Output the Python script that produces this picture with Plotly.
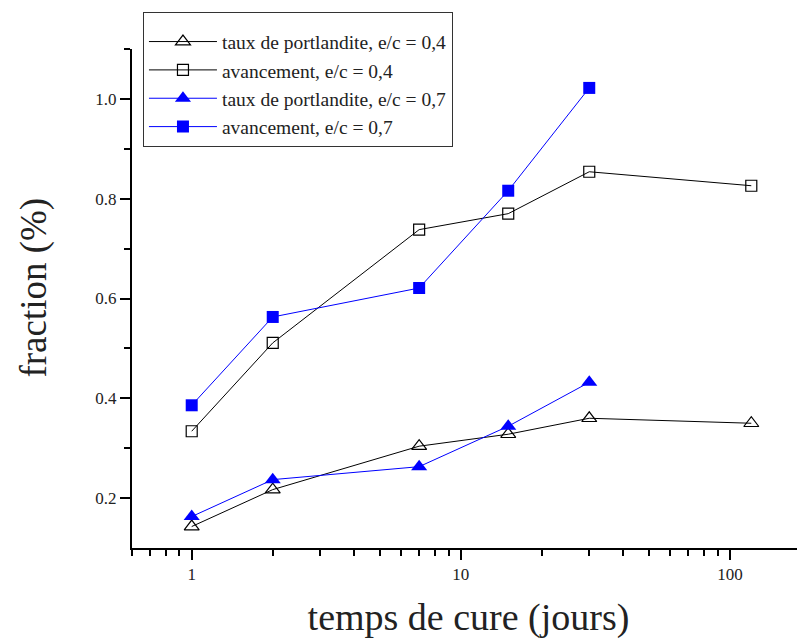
import math
import plotly.graph_objects as go

days_04 = [1, 2, 7, 15, 30, 120]
days_07 = [1, 2, 7, 15, 30]
taux_04 = [0.143, 0.217, 0.304, 0.328, 0.360, 0.350]
avanc_04 = [0.334, 0.511, 0.738, 0.770, 0.854, 0.826]
taux_07 = [0.163, 0.237, 0.263, 0.344, 0.432]
avanc_07 = [0.386, 0.563, 0.621, 0.816, 1.022]

names = ["taux de portlandite, e/c = 0,4", "avancement, e/c = 0,4",
         "taux de portlandite, e/c = 0,7", "avancement, e/c = 0,7"]

x_major = [1, 10, 100]
x_labels = ["1", "10", "100"]
y_major = [0.2, 0.4, 0.6, 0.8, 1.0]
y_labels = ["0.2", "0.4", "0.6", "0.8", "1.0"]

FONT = "Liberation Serif, Times New Roman, Times, serif"
fig = go.Figure()
fig.add_trace(go.Scatter(x=days_04, y=taux_04, name=names[0], mode="lines+markers",
                         line=dict(color="black", width=1),
                         marker=dict(symbol="triangle-up-open", size=13, color="black", line=dict(width=1.2))))
fig.add_trace(go.Scatter(x=days_04, y=avanc_04, name=names[1], mode="lines+markers",
                         line=dict(color="black", width=1),
                         marker=dict(symbol="square-open", size=11, color="black", line=dict(width=1.2))))
fig.add_trace(go.Scatter(x=days_07, y=taux_07, name=names[2], mode="lines+markers",
                         line=dict(color="#0000FF", width=1),
                         marker=dict(symbol="triangle-up", size=14, color="#0000FF")))
fig.add_trace(go.Scatter(x=days_07, y=avanc_07, name=names[3], mode="lines+markers",
                         line=dict(color="#0000FF", width=1),
                         marker=dict(symbol="square", size=12, color="#0000FF")))

minor_x = [0.6, 0.7, 0.8, 0.9] + [k for k in range(2, 10)] + [k * 10 for k in range(2, 10)]

fig.update_layout(
    width=797, height=631,
    margin=dict(l=124, r=0, t=41, b=91),
    paper_bgcolor="white", plot_bgcolor="white",
    font=dict(family=FONT, color="#222"),
    showlegend=True,
    legend=dict(x=0.016, y=1.074, xanchor="left", yanchor="top",
                bgcolor="white", bordercolor="#333", borderwidth=1.2,
                font=dict(family=FONT, size=19.5, color="#222"),
                title=dict(text=" ", font=dict(size=7)),
                itemwidth=68, tracegroupgap=0),
    xaxis=dict(type="log", range=[math.log10(0.6), math.log10(190)], automargin=False,
               tickvals=x_major, ticktext=x_labels,
               ticks="outside", ticklen=10, tickwidth=1.5, tickcolor="black",
               showline=True, linecolor="black", linewidth=2, showgrid=False, zeroline=False,
               minor=dict(tickmode="array", tickvals=minor_x, ticks="outside", ticklen=6,
                          tickwidth=1.5, tickcolor="black", showgrid=False),
               tickfont=dict(family=FONT, size=17, color="#222"),
               title=dict(text="temps de cure (jours)", font=dict(family=FONT, size=38, color="#222"), standoff=31)),
    yaxis=dict(range=[0.1, 1.1], automargin=False,
               tickvals=y_major, ticktext=y_labels,
               ticks="outside", ticklen=10, tickwidth=1.5, tickcolor="black",
               showline=True, linecolor="black", linewidth=2, showgrid=False, zeroline=False,
               minor=dict(tickmode="array", tickvals=[0.3, 0.5, 0.7, 0.9, 1.1], ticks="outside",
                          ticklen=6, tickwidth=1.5, tickcolor="black", showgrid=False),
               tickfont=dict(family=FONT, size=17, color="#222")),
    annotations=[dict(text="fraction (%)", textangle=-90, xref="paper", yref="paper",
                      x=-0.147, y=0.522, xanchor="center", yanchor="middle", showarrow=False,
                      font=dict(family=FONT, size=37, color="#222"))],
)

fig.write_html("out.html")
